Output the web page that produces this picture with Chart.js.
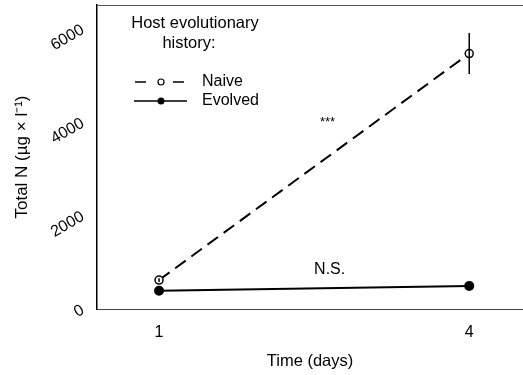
<!DOCTYPE html>
<html>
<head>
<meta charset="utf-8">
<script src="https://cdn.jsdelivr.net/npm/chart.js@4/dist/chart.umd.min.js"></script>
<style>
  html, body { margin: 0; padding: 0; background: #fff; }
  #wrap { width: 523px; height: 375px; }
</style>
</head>
<body>
<div id="wrap"><canvas id="nChart"></canvas></div>
<script>
const days = [1, 4];
const naiveN = [620, 5470];
const naiveErr = [40, 440];
const evolvedN = [390, 495];
const evolvedErr = [40, 30];
const xTicks = [1, 4];
const yTicks = [0, 2000, 4000, 6000];
const notes = [
  { x: 2.63, y: 3990, text: "***", size: 13 },
  { x: 2.65, y: 850, text: "N.S.", size: 16 }
];

const FONT = "'Liberation Sans', Arial, sans-serif";

function toPoints(values) {
  return days.map((d, i) => ({ x: d, y: values[i] }));
}

// error bars, top frame line, text notes and the legend box
const extras = {
  id: "extras",
  afterDatasetsDraw(chart) {
    const ctx = chart.ctx;
    const xs = chart.scales.x;
    const ys = chart.scales.y;
    const area = chart.chartArea;
    ctx.save();
    ctx.strokeStyle = "#000";
    ctx.lineWidth = 1.5;
    [[naiveN, naiveErr], [evolvedN, evolvedErr]].forEach(([vals, errs]) => {
      days.forEach((d, i) => {
        const px = xs.getPixelForValue(d);
        ctx.beginPath();
        ctx.moveTo(px, ys.getPixelForValue(vals[i] - errs[i]));
        ctx.lineTo(px, ys.getPixelForValue(vals[i] + errs[i]));
        ctx.stroke();
      });
    });

    ctx.lineWidth = 1;
    ctx.strokeStyle = "#555";
    ctx.beginPath();
    ctx.moveTo(area.left, area.top + 0.5);
    ctx.lineTo(area.right, area.top + 0.5);
    ctx.stroke();

    ctx.fillStyle = "#000";
    ctx.textAlign = "center";
    ctx.textBaseline = "middle";
    notes.forEach(n => {
      ctx.font = n.size + "px " + FONT;
      ctx.fillText(n.text, xs.getPixelForValue(n.x), ys.getPixelForValue(n.y));
    });

    // legend
    const lx = area.left;
    const ly = area.top;
    ctx.font = "16.5px " + FONT;
    ctx.fillText("Host evolutionary", lx + 98, ly + 18);
    ctx.fillText("history:", lx + 92, ly + 38);
    ctx.font = "16px " + FONT;
    ctx.textAlign = "left";
    ctx.fillText("Naive", lx + 105, ly + 77);
    ctx.fillText("Evolved", lx + 105, ly + 96);

    ctx.strokeStyle = "#000";
    ctx.lineWidth = 1.5;
    ctx.beginPath();
    ctx.moveTo(lx + 38, ly + 77); ctx.lineTo(lx + 49, ly + 77);
    ctx.moveTo(lx + 76, ly + 77); ctx.lineTo(lx + 87, ly + 77);
    ctx.moveTo(lx + 37, ly + 96); ctx.lineTo(lx + 90, ly + 96);
    ctx.stroke();
    ctx.beginPath();
    ctx.arc(lx + 64, ly + 77, 3, 0, Math.PI * 2);
    ctx.fillStyle = "#fff";
    ctx.fill();
    ctx.lineWidth = 1.2;
    ctx.stroke();
    ctx.beginPath();
    ctx.arc(lx + 64, ly + 96, 3.5, 0, Math.PI * 2);
    ctx.fillStyle = "#000";
    ctx.fill();
    ctx.restore();
  }
};

new Chart(document.getElementById("nChart"), {
  type: "scatter",
  data: {
    datasets: [
      {
        label: "Naive",
        data: toPoints(naiveN),
        showLine: true,
        borderColor: "#000",
        borderWidth: 2,
        borderDash: [13, 7],
        pointBackgroundColor: "#fff",
        pointBorderColor: "#000",
        pointBorderWidth: 1.5,
        pointRadius: 4
      },
      {
        label: "Evolved",
        data: toPoints(evolvedN),
        showLine: true,
        borderColor: "#000",
        borderWidth: 2,
        pointBackgroundColor: "#000",
        pointBorderColor: "#000",
        pointRadius: 4
      }
    ]
  },
  options: {
    responsive: true,
    maintainAspectRatio: false,
    animation: false,
    layout: { autoPadding: false, padding: { top: 5, right: 0, left: 0, bottom: 0 } },
    plugins: { legend: { display: false }, tooltip: { enabled: false } },
    scales: {
      x: {
        type: "linear",
        min: 0.4,
        max: 4.52,
        afterBuildTicks: axis => { axis.ticks = xTicks.map(v => ({ value: v })); },
        afterFit: axis => { axis.height = 66; axis.paddingLeft = 0; axis.paddingRight = 0; },
        grid: { display: false, drawOnChartArea: false, drawTicks: true, tickLength: 6, tickColor: "#000" },
        border: { display: true, color: "#444", width: 1 },
        ticks: { color: "#000", font: { family: FONT, size: 16 }, padding: 8, maxRotation: 0, callback: v => String(v) },
        title: { display: true, text: "Time (days)", color: "#000", font: { family: FONT, size: 16.5 }, padding: { top: 4 } }
      },
      y: {
        min: 0,
        max: 6510,
        afterBuildTicks: axis => { axis.ticks = yTicks.map(v => ({ value: v })); },
        afterFit: axis => { axis.width = 97; axis.paddingTop = 0; axis.paddingBottom = 0; },
        grid: { display: false, drawOnChartArea: false, drawTicks: true, tickLength: 7, tickColor: "#000" },
        border: { display: true, color: "#000", width: 1.5 },
        ticks: { color: "#000", font: { family: FONT, size: 16 }, padding: 7, minRotation: 30, maxRotation: 30, callback: v => String(v) },
        title: { display: true, text: "Total N (µg × l⁻¹)", color: "#000", font: { family: FONT, size: 17 }, padding: { top: 12, bottom: 4 } }
      }
    }
  },
  plugins: [extras]
});
</script>
</body>
</html>
